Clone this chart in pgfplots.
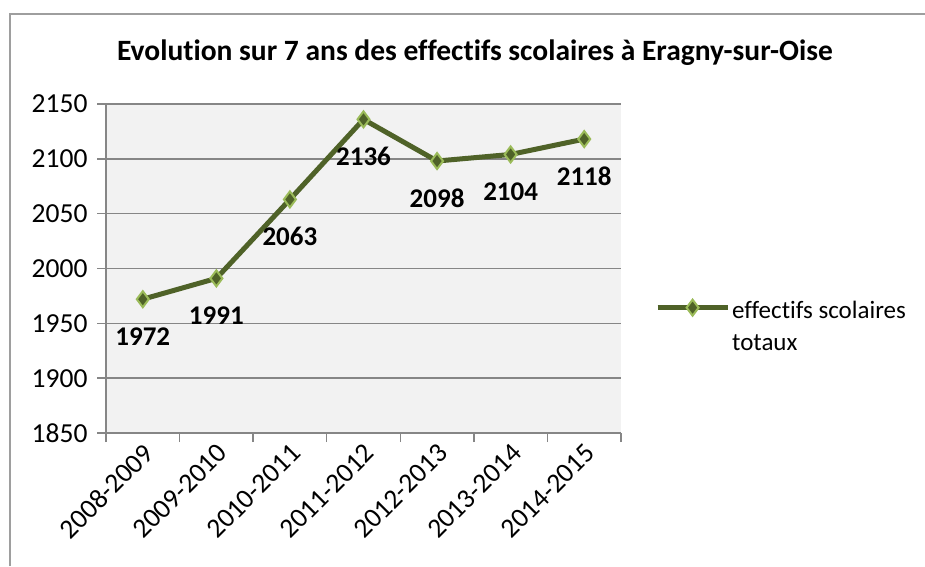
\documentclass[border=0pt]{standalone}
\usepackage{pgfplots}
\pgfplotsset{compat=1.18}
\usepackage{fontspec}
\setmainfont{Carlito}[Ligatures={NoCommon}]
\definecolor{lineol}{RGB}{79,98,40}
\definecolor{mklight}{RGB}{155,187,89}
\definecolor{plotbg}{RGB}{242,242,242}
\definecolor{gridc}{RGB}{134,134,134}
\begin{document}
\begin{tikzpicture}[x=1pt,y=1pt]
\useasboundingbox (0,0) rectangle (925,566);
\draw[gridc!80, line width=1.5pt] (10,0) -- (10,552) -- (925,552);
\node[font=\fontsize{29.5}{34}\selectfont\bfseries] at (475,513) {Evolution sur 7 ans des effectifs scolaires à Eragny-sur-Oise};
\begin{axis}[
  at={(106pt,133pt)}, anchor=south west,
  scale only axis, width=515pt, height=329pt,
  xmin=-0.5, xmax=6.5, ymin=1850, ymax=2150,
  axis background/.style={fill=plotbg},
  axis x line*=bottom, axis y line*=left,
  axis line style={gridc, line width=1.5pt, -},
  xtick={0,...,6},
  xticklabels={2008-2009,2009-2010,2010-2011,2011-2012,2012-2013,2013-2014,2014-2015},
  major x tick style={draw=none},
  minor xtick={-0.5,0.5,...,6.5},
  minor tick length=9pt,
  minor tick style={gridc, line width=1.5pt},
  ytick={1850,1900,...,2150},
  major tick length=9pt,
  tick align=outside,
  ytick style={gridc, line width=1.5pt},
  ymajorgrids, grid style={gridc, line width=1.5pt},
  /pgf/number format/assume math mode=true,
  /pgf/number format/1000 sep={},
  tick label style={font=\fontsize{27.5}{32}\selectfont, text=black},
  xticklabel style={rotate=45, anchor=east, yshift=-9pt, xshift=3pt},
  yticklabel style={xshift=-6pt},
  nodes near coords,
  every node near coord/.append style={font=\fontsize{27}{32}\selectfont\bfseries, anchor=center, yshift=-37pt, text=black},
  legend style={at={(1.06,0.43)}, anchor=north west, draw=none, fill=none, font=\fontsize{25}{32}\selectfont},
  legend cell align=left,
  legend image code/.code={\draw[#1, mark repeat=2, mark phase=2] plot coordinates {(0pt,0pt) (35pt,0pt) (70pt,0pt)};},
  clip=false,
]
\addplot[color=lineol, line width=5pt, mark=diamond*, mark size=8pt,
  mark options={fill=lineol, draw=mklight, line width=2pt}]
  coordinates {(0,1972) (1,1991) (2,2063) (3,2136) (4,2098) (5,2104) (6,2118)};
\addlegendentry{\begin{tabular}[t]{@{}l@{}}effectifs scolaires\\totaux\end{tabular}}
\end{axis}
\end{tikzpicture}
\end{document}
